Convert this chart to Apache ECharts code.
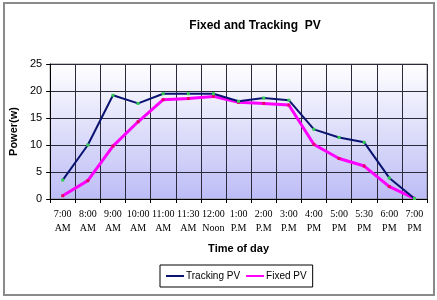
<!DOCTYPE html>
<html>
<head>
<meta charset="utf-8">
<script src="https://cdn.jsdelivr.net/npm/echarts@6/dist/echarts.min.js"></script>
<style>
  html, body { margin: 0; padding: 0; background: #fff; }
  #chart { width: 437px; height: 300px; }
</style>
</head>
<body>
<div id="chart"></div>
<script>
// 时间段（x 轴类目）
const times = ['7:00\nAM', '8:00\nAM', '9:00\nAM', '10:00\nAM', '11:00\nAM', '11:30\nAM', '12:00\nNoon',
  '1:00\nP.M', '2:00\nP.M', '3:00\nP.M', '4:00\nPM', '5:00\nPM', '5:30\nPM', '6:00\nPM', '7:00\nPM']
// 跟踪式光伏功率
const trackingPV = [3.5, 10.0, 19.2, 17.7, 19.5, 19.5, 19.5, 18.1, 18.7, 18.3, 12.9, 11.4, 10.5, 3.9, 0.1]
// 固定式光伏功率
const fixedPV = [0.6, 3.4, 9.8, 14.3, 18.4, 18.6, 19.0, 17.9, 17.7, 17.4, 10.1, 7.5, 6.1, 2.3, 0.1]
// y 轴刻度
const yTicks = [0, 5, 10, 15, 20, 25]

const chart = echarts.init(document.getElementById('chart'))
const option = {
  animation: false,
  backgroundColor: '#fff',
  textStyle: { fontFamily: 'Liberation Sans' },
  // 外边框
  graphic: [{
    type: 'rect',
    shape: { x: 4, y: 3, width: 430, height: 292 },
    style: { fill: 'none', stroke: '#8a8a8a', lineWidth: 2 },
    silent: true
  }],
  title: {
    text: 'Fixed and Tracking  PV',
    left: 250,
    top: 15,
    textAlign: 'center',
    textStyle: { fontSize: 12, fontWeight: 'bold', color: '#000' }
  },
  grid: {
    left: 46, right: 10, top: 64, bottom: 101,
    show: true,
    borderColor: '#888',
    borderWidth: 1,
    backgroundColor: new echarts.graphic.LinearGradient(0, 0, 0, 1, [
      { offset: 0, color: '#ffffff' },
      { offset: 1, color: '#bcbcf6' }
    ])
  },
  // 图例：只画线段
  legend: {
    data: [
      { name: 'Tracking PV', itemStyle: { color: '#0a1470' } },
      { name: 'Fixed PV', itemStyle: { color: '#ff00ff' } }
    ],
    orient: 'horizontal',
    left: 160,
    top: 265,
    icon: 'rect',
    borderColor: '#000',
    borderWidth: 1,
    padding: [6, 6, 6, 6],
    itemGap: 6,
    itemWidth: 18,
    itemHeight: 2,
    textStyle: { fontSize: 10, color: '#000', padding: [0, 0, 0, -3] }
  },
  xAxis: {
    type: 'category',
    data: times,
    boundaryGap: true,
    name: 'Time of day',
    nameLocation: 'middle',
    nameGap: 44,
    nameTextStyle: { fontSize: 11, fontWeight: 'bold', color: '#000' },
    axisLine: { lineStyle: { color: '#000', width: 1 } },
    axisTick: { show: true, length: 4, lineStyle: { color: '#000' } },
    axisLabel: {
      interval: 0,
      margin: 8,
      fontSize: 10,
      lineHeight: 14,
      color: '#000',
      fontFamily: 'Liberation Serif'
    },
    splitLine: { show: true, interval: 0, lineStyle: { color: '#2a2a3a', width: 1 } }
  },
  yAxis: {
    type: 'value',
    min: yTicks[0],
    max: yTicks[yTicks.length - 1],
    interval: 5,
    name: 'Power(w)',
    nameLocation: 'middle',
    nameGap: 29,
    nameTextStyle: { fontSize: 11, fontWeight: 'bold', color: '#000' },
    axisLine: { show: true, lineStyle: { color: '#000' } },
    axisTick: { show: true, length: 4, lineStyle: { color: '#000' } },
    axisLabel: { fontSize: 11, color: '#000', margin: 8 },
    splitLine: { show: true, lineStyle: { color: '#2a2a3a', width: 1 } }
  },
  series: [
    {
      name: 'Tracking PV',
      type: 'line',
      data: trackingPV,
      symbol: 'rect',
      symbolSize: 3,
      lineStyle: { color: '#0a1470', width: 2 },
      itemStyle: { color: '#33cc55', borderWidth: 0 },
      z: 3
    },
    {
      name: 'Fixed PV',
      type: 'line',
      data: fixedPV,
      symbol: 'rect',
      symbolSize: 3,
      lineStyle: { color: '#ff00ff', width: 3 },
      itemStyle: { color: '#e8006a', borderWidth: 0 },
      z: 2
    }
  ]
}
chart.setOption(option)
window.addEventListener('resize', chart.resize)
</script>
</body>
</html>
